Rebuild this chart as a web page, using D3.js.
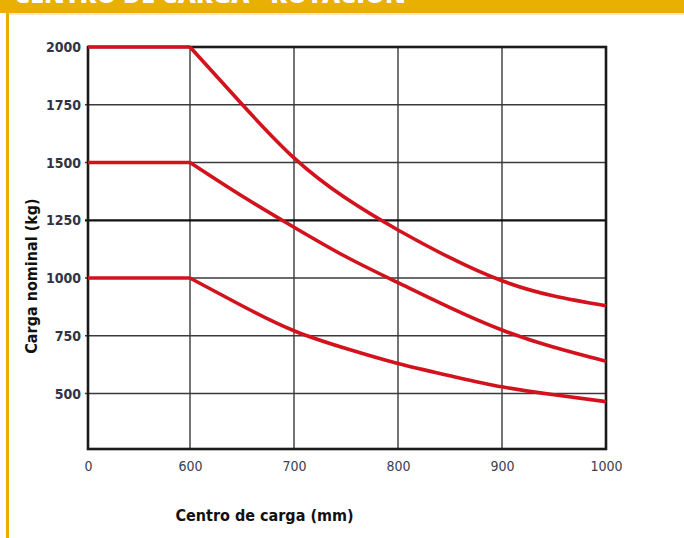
<!DOCTYPE html>
<html>
<head>
<meta charset="utf-8">
<script src="https://cdn.jsdelivr.net/npm/d3@7"></script>
<style>
  html, body { margin: 0; padding: 0; background: #ffffff; }
  svg { display: block; }
</style>
</head>
<body>
<svg id="chart" width="684" height="538"></svg>
<script>
// ---- data ----
const centers   = [0, 600, 650, 700, 750, 800, 850, 900, 950, 1000];
const load2000  = [2000, 2000, 1752, 1520, 1345, 1208, 1088, 988, 922, 880];
const load1500  = [1500, 1500, 1355, 1220, 1092, 980, 872, 775, 700, 640];
const load1000  = [1000, 1000, 880, 772, 695, 630, 577, 529, 495, 465];
const xTicks = [0, 600, 700, 800, 900, 1000];
const yTicks = [500, 750, 1000, 1250, 1500, 1750, 2000];
const seriesList = [load2000, load1500, load1000];
const titleText = "CENTRO DE CARGA - ROTACIÓN";
const xTitle = "Centro de carga (mm)";
const yTitle = "Carga nominal (kg)";

(function () {
// ---- layout ----
const svg = d3.select("#chart");
const W = 684, H = 538;
const yellow = "#e8b000";
const red = "#d2121c";
const condensed = "'DejaVu Sans Condensed', 'Liberation Sans Narrow', 'DejaVu Sans', sans-serif";

// frame
svg.append("rect").attr("x", 0).attr("y", 0).attr("width", W).attr("height", 13).attr("fill", yellow);
svg.append("rect").attr("x", 6).attr("y", 0).attr("width", 3).attr("height", H).attr("fill", yellow);
svg.append("rect").attr("x", 9).attr("y", 13).attr("width", W - 9).attr("height", 2).attr("fill", "#f6e9c4");
svg.append("text").attr("x", 14).attr("y", 3)
  .attr("font-family", "'Open Sans', 'DejaVu Sans', sans-serif")
  .attr("font-weight", 800).attr("font-size", 25).attr("fill", "#ffffff")
  .text(titleText);

const pL = 88, pR = 606, pT = 47, pB = 449;
const x = d3.scaleLinear().domain([0, 600, 1000]).range([pL, 190, pR]);
const y = d3.scaleLinear().domain([260, 2000]).range([pB, pT]);

const g = svg.append("g");

// grid
g.selectAll("line.vgrid").data(xTicks.filter(d => d > 0 && d < 1000)).join("line")
  .attr("class", "vgrid")
  .attr("x1", d => x(d)).attr("x2", d => x(d))
  .attr("y1", pT).attr("y2", pB)
  .attr("stroke", "#3a3a3a").attr("stroke-width", 1.4);
g.selectAll("line.hgrid").data(yTicks.filter(d => d < 2000)).join("line")
  .attr("class", "hgrid")
  .attr("x1", pL - 3).attr("x2", pR)
  .attr("y1", d => y(d)).attr("y2", d => y(d))
  .attr("stroke", d => d === 1250 ? "#111" : "#3a3a3a")
  .attr("stroke-width", d => d === 1250 ? 2.2 : 1.4);

// outer frame
g.append("rect").attr("x", pL).attr("y", pT)
  .attr("width", pR - pL).attr("height", pB - pT)
  .attr("fill", "none").attr("stroke", "#1a1a1a").attr("stroke-width", 2.6);

// axes (labels only)
const xAxis = d3.axisBottom(x).tickValues(xTicks).tickSize(0).tickPadding(12).tickFormat(d3.format("d"));
const gx = svg.append("g").attr("transform", `translate(0,${pB})`).call(xAxis);
gx.select(".domain").remove();
gx.selectAll("text").attr("font-family", condensed).attr("font-size", 14)
  .attr("fill", "#3b4050");

const yAxis = d3.axisLeft(y).tickValues(yTicks).tickSize(0).tickPadding(7).tickFormat(d3.format("d"));
const gy = svg.append("g").attr("transform", `translate(${pL},0)`).call(yAxis);
gy.select(".domain").remove();
gy.selectAll("text").attr("font-family", condensed).attr("font-size", 14)
  .attr("font-weight", "bold").attr("fill", "#2f3446");

// curves
const flat = d3.line().x(d => x(d[0])).y(d => y(d[1])).curve(d3.curveLinear);
const curved = d3.line().x(d => x(d[0])).y(d => y(d[1])).curve(d3.curveNatural);
seriesList.forEach(vals => {
  const pts = centers.map((c, i) => [c, vals[i]]);
  g.append("path").attr("d", flat(pts.slice(0, 2)))
    .attr("fill", "none").attr("stroke", red).attr("stroke-width", 3.6);
  g.append("path").attr("d", curved(pts.slice(1)))
    .attr("fill", "none").attr("stroke", red).attr("stroke-width", 3.6)
    .attr("stroke-linejoin", "round");
});

// axis titles
svg.append("text").attr("x", 264.5).attr("y", 521).attr("text-anchor", "middle")
  .attr("font-family", condensed).attr("font-weight", "bold").attr("font-size", 16)
  .attr("fill", "#111").text(xTitle);
svg.append("text").attr("transform", "translate(37,276) rotate(-90)").attr("text-anchor", "middle")
  .attr("font-family", condensed).attr("font-weight", "bold").attr("font-size", 16)
  .attr("fill", "#111").text(yTitle);
})();
</script>
</body>
</html>
